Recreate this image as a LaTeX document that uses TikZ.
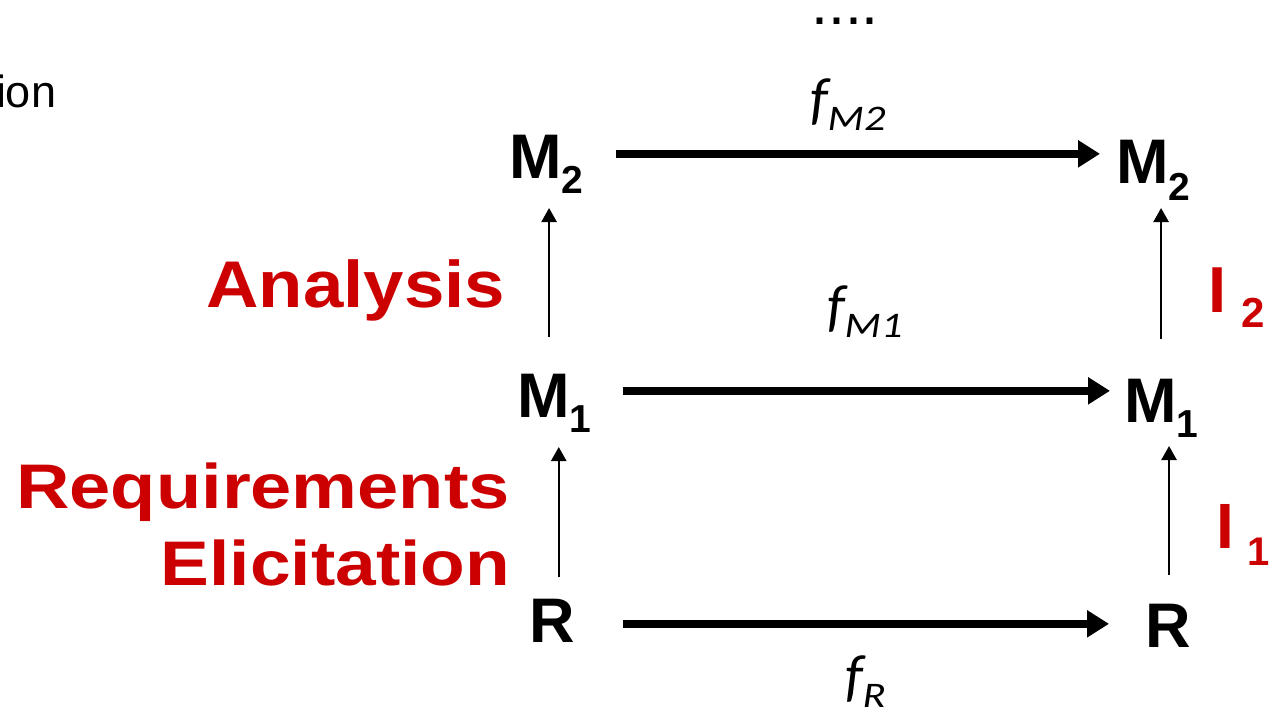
\documentclass[tikz,border=0pt]{standalone}
\usepackage{fontspec}
\usepackage{graphicx}
\setmainfont{Liberation Sans}
\newfontfamily\calib{Carlito}
\usetikzlibrary{arrows.meta}
\definecolor{redlbl}{RGB}{204,0,0}
\newcommand{\fs}[1]{\fontsize{#1pt}{#1pt}\selectfont}
\newcommand{\mlab}[3]{\fs{63}\bfseries #1\raisebox{-#3pt}{\fs{39}#2}}
\newcommand{\flab}[1]{\calib\itshape\fs{58}f\raisebox{-12pt}{\scalebox{1.18}[1]{\fs{36}#1}}}
\tikzset{
  lbl/.style={inner sep=0pt, outer sep=0pt, anchor=base west},
  redtext/.style={inner sep=0pt, outer sep=0pt, anchor=base east, text=redlbl, font=\bfseries},
  bigarr/.style={line width=8pt, -{Triangle[length=22pt,width=26pt]}},
  thinarr/.style={line width=2.5pt, -{Triangle[length=14pt,width=15pt]}}
}
\begin{document}
\begin{tikzpicture}[x=1pt,y=-1pt]
\useasboundingbox (0,0) rectangle (1270,713);
% top dots and cut-off text
\node[inner sep=0pt, anchor=base] (dots) at (845,24) {\fs{61}....};
\node[lbl] (ion) at (-4,107) {\fs{45}ion};
% math nodes
\node[lbl] (M2L) at (509,178) {\mlab{M}{2}{15}};
\node[lbl] (M2R) at (1116,183) {\mlab{M}{2}{17}};
\node[lbl] (M1L) at (517,417) {\mlab{M}{1}{15}};
\node[lbl] (M1R) at (1124,422) {\mlab{M}{1}{15}};
\node[lbl] (RL) at (529,642) {\fs{63}\bfseries R};
\node[lbl] (RR) at (1145,647) {\fs{63}\bfseries R};
% function labels
\node[lbl] (fM2) at (810,118) {\flab{M2}};
\node[lbl] (fM1) at (827,325) {\flab{M1}};
\node[lbl] (fR) at (845,695) {\flab{R}};
% red labels
\node[redtext] (ana) at (505,307) {\scalebox{1.1}[1]{\fs{66}Analysis}};
\node[redtext] (req) at (510,508) {\scalebox{1.175}[1]{\fs{63}Requirements}};
\node[redtext] (eli) at (510,585) {\scalebox{1.16}[1]{\fs{63}Elicitation}};
\node[lbl, text=redlbl, font=\bfseries] (I2) at (1208,312) {\fs{65}I\hspace{15pt}\raisebox{-15pt}{\fs{42}2}};
\node[lbl, text=redlbl, font=\bfseries] (I1) at (1216,548) {\fs{64}I\hspace{14pt}\raisebox{-17pt}{\fs{40}1}};
% horizontal arrows
\draw[bigarr, shorten <=33pt, shorten >=16pt] ([yshift=10pt]M2L.east) -- ([yshift=10pt]M2L.east -| M2R.west);
\draw[bigarr, shorten <=32pt, shorten >=14pt] ([yshift=12pt]M1L.east) -- ([yshift=12pt]M1L.east -| M1R.west);
\draw[bigarr, shorten <=48.5pt, shorten >=36pt] ([yshift=-3.5pt]RL.east) -- ([yshift=-3.5pt]RL.east -| RR.west);
% vertical arrows
\draw[thinarr, shorten <=22pt, shorten >=15pt] ([xshift=7pt]RL.north) -- ([xshift=7pt]RL.north |- M1L.south);
\draw[thinarr, shorten <=29pt, shorten >=9pt] ([xshift=1.3pt]RR.north) -- ([xshift=1.3pt]RR.north |- M1R.south);
\draw[thinarr, shorten <=37pt, shorten >=15pt] ([xshift=-5pt]M1L.north) -- ([xshift=-5pt]M1L.north |- M2L.south);
\draw[thinarr, shorten <=40pt, shorten >=8pt] (M1R.north) -- (M1R.north |- M2R.south);
\end{tikzpicture}
\end{document}
